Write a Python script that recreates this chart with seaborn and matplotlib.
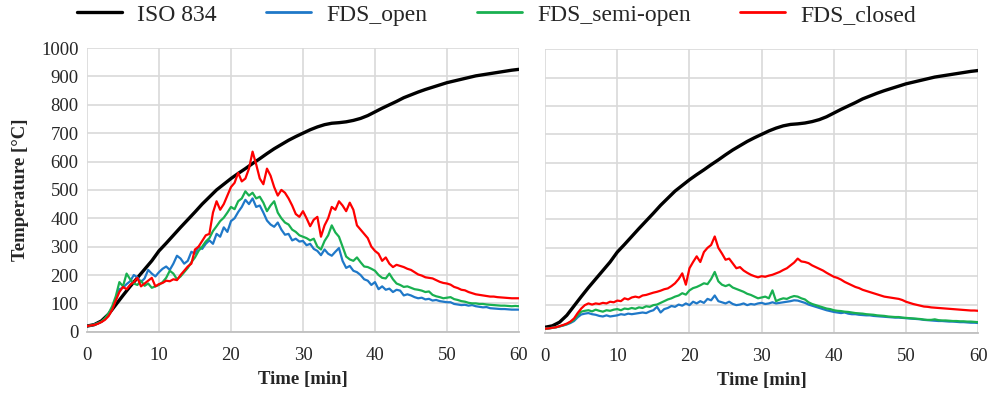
import numpy as np
import pandas as pd
import seaborn as sns
import matplotlib.pyplot as plt
from matplotlib.lines import Line2D

# ISO 834 reference curve, one value per minute (0..60)
iso_temp = [20, 25, 38, 62, 95, 128, 160, 190, 220, 250,
            285, 312, 340, 368, 395, 422, 450, 475, 500, 520,
            540, 558, 575, 593, 610, 628, 645, 660, 675, 688,
            700, 712, 722, 730, 735, 737, 740, 745, 752, 762,
            775, 788, 800, 812, 825, 835, 845, 854, 862, 870,
            878, 884, 890, 896, 902, 906, 910, 914, 918, 922,
            925]

# FDS results, one value every 0.5 min (0..60), each row = 5 min
left_open = [20, 22, 25, 30, 35, 45, 60, 82, 115, 150,
             155, 168, 178, 200, 192, 175, 188, 218, 205, 195,
             210, 222, 230, 218, 240, 268, 258, 240, 250, 282,
             275, 300, 292, 310, 322, 310, 345, 335, 368, 352,
             390, 400, 422, 440, 465, 450, 470, 440, 445, 420,
             392, 378, 370, 385, 360, 342, 345, 322, 328, 318,
             320, 305, 310, 292, 285, 270, 290, 275, 268, 282,
             295, 250, 225, 232, 215, 210, 200, 185, 180, 165,
             175, 150, 160, 148, 152, 140, 148, 145, 128, 132,
             128, 122, 118, 120, 114, 116, 110, 112, 108, 106,
             104, 104, 98, 96, 94, 95, 92, 94, 90, 88,
             86, 87, 83, 82, 81, 80, 80, 79, 78, 78,
             78]
left_semi = [20, 22, 25, 30, 36, 48, 65, 90, 125, 175,
             160, 205, 185, 170, 165, 180, 162, 170, 155, 160,
             165, 175, 190, 215, 205, 185, 195, 210, 225, 245,
             262, 285, 300, 318, 330, 355, 372, 390, 402, 420,
             440, 432, 460, 470, 495, 480, 490, 470, 476, 455,
             425, 445, 460, 420, 400, 385, 378, 360, 352, 340,
             335, 330, 322, 328, 300, 290, 320, 340, 375, 350,
             335, 300, 265, 255, 250, 262, 245, 230, 228, 222,
             215, 200, 190, 188, 205, 185, 170, 165, 158, 160,
             155, 150, 148, 145, 140, 142, 130, 125, 122, 118,
             120, 122, 115, 112, 108, 106, 102, 100, 100, 98,
             98, 96, 95, 94, 93, 92, 92, 91, 90, 91,
             90]
left_closed = [20, 22, 24, 28, 34, 42, 55, 78, 110, 140,
               158, 150, 165, 175, 190, 160, 170, 180, 190, 160,
               168, 172, 180, 178, 185, 182, 200, 215, 230, 240,
               290, 300, 320, 340, 345, 420, 460, 430, 450, 480,
               510, 525, 560, 530, 540, 575, 635, 590, 540, 520,
               575, 550, 510, 480, 500, 490, 470, 445, 415, 405,
               425, 400, 372, 395, 405, 335, 375, 400, 440, 430,
               460, 445, 425, 455, 430, 375, 360, 345, 330, 300,
               285, 275, 250, 262, 240, 228, 236, 232, 228, 222,
               218, 210, 202, 198, 192, 190, 188, 182, 176, 172,
               170, 166, 158, 154, 148, 146, 140, 136, 132, 130,
               128, 126, 124, 124, 122, 121, 120, 119, 118, 118,
               118]

right_open = [15, 16, 18, 20, 23, 26, 30, 35, 42, 55,
              65, 68, 70, 66, 64, 60, 58, 62, 58, 60,
              62, 66, 64, 68, 66, 68, 70, 72, 70, 76,
              80, 92, 72, 84, 88, 95, 92, 100, 96, 104,
              98, 110, 104, 112, 106, 120, 115, 132, 112, 108,
              104, 110, 102, 98, 100, 104, 98, 102, 100, 104,
              106, 102, 104, 108, 104, 106, 108, 110, 112, 115,
              114, 110, 106, 100, 96, 92, 88, 84, 80, 77,
              74, 72, 70, 72, 68, 66, 66, 64, 63, 62,
              62, 60, 59, 58, 57, 56, 55, 54, 54, 53,
              52, 51, 50, 49, 48, 46, 45, 44, 43, 42,
              42, 41, 40, 40, 39, 38, 38, 37, 36, 36,
              35]
right_semi = [15, 16, 18, 20, 23, 27, 31, 38, 46, 62,
              75, 78, 80, 76, 82, 78, 75, 80, 78, 82,
              84, 80, 86, 84, 88, 85, 90, 88, 94, 92,
              98, 100, 106, 112, 118, 122, 128, 132, 140, 135,
              150, 158, 162, 168, 175, 172, 190, 215, 182, 170,
              165, 170, 160, 155, 150, 145, 138, 134, 128, 122,
              125, 128, 122, 150, 112, 118, 122, 120, 126, 130,
              128, 122, 118, 108, 102, 98, 94, 90, 86, 84,
              80, 78, 77, 75, 74, 72, 70, 69, 68, 66,
              65, 64, 62, 61, 60, 58, 57, 56, 56, 54,
              53, 52, 51, 50, 49, 47, 46, 46, 48, 45,
              44, 44, 43, 42, 42, 41, 41, 40, 40, 39,
              38]
right_closed = [15, 16, 18, 20, 24, 28, 33, 40, 51, 70,
                86, 98, 104, 100, 104, 102, 106, 104, 110, 108,
                114, 112, 122, 118, 125, 128, 125, 132, 134, 138,
                142, 145, 149, 154, 157, 165, 175, 190, 210, 170,
                228, 250, 270, 250, 285, 300, 310, 340, 300, 280,
                258, 262, 245, 228, 232, 220, 212, 205, 200, 196,
                200, 198, 202, 205, 210, 215, 222, 228, 238, 248,
                262, 252, 250, 246, 238, 232, 226, 220, 212, 205,
                198, 194, 188, 180, 174, 168, 162, 158, 152, 148,
                144, 140, 136, 132, 128, 126, 124, 122, 120, 116,
                110, 106, 102, 99, 96, 93, 92, 90, 89, 88,
                87, 86, 85, 84, 83, 82, 81, 80, 79, 79,
                78]

labels = ["ISO 834", "FDS_open", "FDS_semi-open", "FDS_closed"]
colors = ["#000000", "#1f78c8", "#19b050", "#ff0000"]
widths = [2.4, 1.6, 1.6, 1.6]

iso_time = np.arange(len(iso_temp))
fds_time = np.arange(len(left_open)) * 0.5

sns.set_style("white")
plt.rcParams["font.family"] = ["Liberation Serif", "DejaVu Serif"]

fig = plt.figure(figsize=(9.93, 3.94), dpi=100)
ax1 = fig.add_axes([0.0876, 0.158, 0.435, 0.72])
ax2 = fig.add_axes([0.549, 0.155, 0.436, 0.72])

panels = [(ax1, [left_open, left_semi, left_closed]),
          (ax2, [right_open, right_semi, right_closed])]

for ax, runs in panels:
    sns.lineplot(x=iso_time, y=iso_temp, ax=ax, color=colors[0], lw=widths[0])
    for vals, c, w in zip(runs, colors[1:], widths[1:]):
        sns.lineplot(x=fds_time, y=vals, ax=ax, color=c, lw=w)
    ax.set_xlim(0, 60)
    ax.set_ylim(0, 1000)
    ax.set_xticks(range(0, 61, 10))
    ax.set_yticks(range(0, 1001, 100))
    ax.grid(True, color="#d9d9d9", lw=1.2)
    ax.set_axisbelow(True)
    for s in ["top", "right", "left"]:
        ax.spines[s].set_visible(False)
    ax.spines["bottom"].set_color("#bfbfbf")
    ax.spines["bottom"].set_linewidth(1.3)
    ax.tick_params(axis="x", length=0, labelsize=13.5, pad=11)
    ax.tick_params(axis="y", length=0, labelsize=13.5, pad=6)
    ax.set_xlabel("Time [min]", fontsize=13.5, fontweight="bold", labelpad=5)

ax1.set_ylabel("Temperature [°C]", fontsize=13.5, fontweight="bold", labelpad=9)
ax2.set_ylabel("")
ax2.set_yticklabels([])

handles = [Line2D([], [], color=c, lw=w if w > 2 else 2) for c, w in zip(colors, widths)]
fig.legend(handles, labels, loc="center", bbox_to_anchor=(0.5, 0.962), ncol=4,
           frameon=False, fontsize=17, handlelength=1.9, handletextpad=0.65,
           columnspacing=2.1)

fig.savefig("out.png", dpi=100)
